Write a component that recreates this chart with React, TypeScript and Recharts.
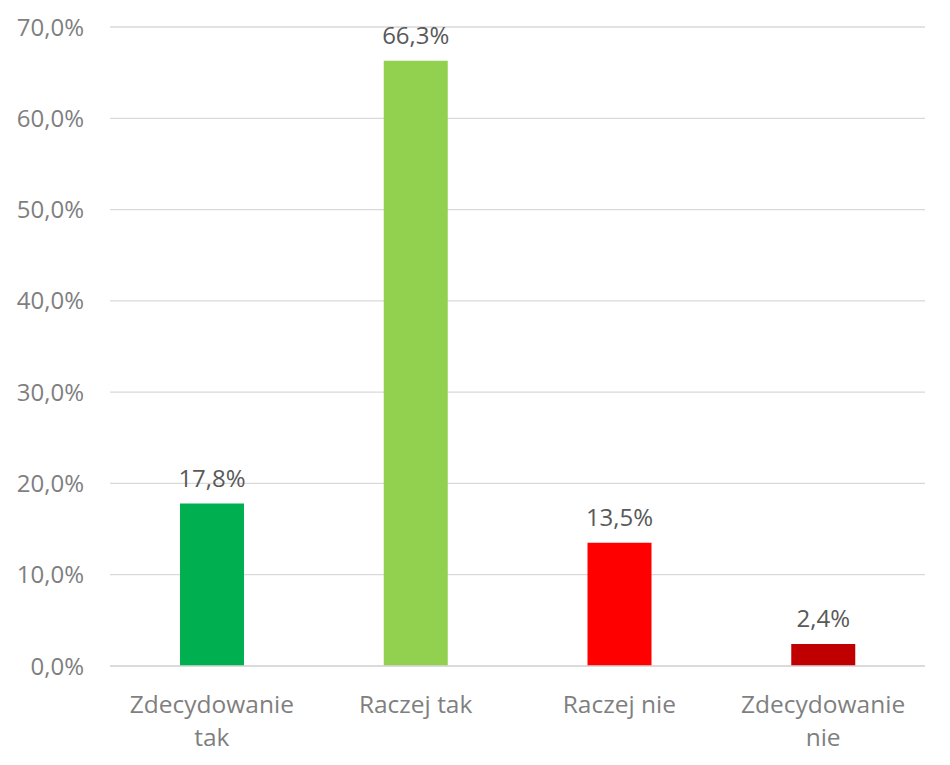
import { BarChart, Bar, XAxis, YAxis, CartesianGrid, LabelList, Cell } from 'recharts'

const categories = ['Zdecydowanie tak', 'Raczej tak', 'Raczej nie', 'Zdecydowanie nie']
const values = [17.8, 66.3, 13.5, 2.4]
const barColors = ['#00B050', '#92D050', '#FF0000', '#C00000']
const yTicks = [0, 10, 20, 30, 40, 50, 60, 70]

const data = categories.map((name, i) => ({ name, value: values[i] }))

const FONT = '"Open Sans", sans-serif'
const fmt = (n: number, digits: number) => n.toFixed(digits).replace('.', ',') + '%'

function CategoryTick({ x, y, payload }: { x?: number; y?: number; payload?: { value: string } }) {
  const text = payload?.value ?? ''
  // Excel-style wrap: "Zdecydowanie tak" breaks into two lines
  const lines = text.startsWith('Zdecydowanie') ? ['Zdecydowanie', text.slice(13)] : [text]
  return (
    <text x={x} y={y} textAnchor="middle" fill="#7f7f7f" fontSize={24.5} fontFamily={FONT}>
      {lines.map((l, i) => (
        <tspan key={i} x={x} dy={i === 0 ? 39 : 33}>
          {l}
        </tspan>
      ))}
    </text>
  )
}

export default function App() {
  return (
    <div style={{ position: 'absolute', left: 0, top: 0, background: '#fff' }}>
      <BarChart
        width={950}
        height={765}
        data={data}
        margin={{ top: 27, right: 25, bottom: 0, left: 0 }}
        barCategoryGap="0%"
      >
        <CartesianGrid stroke="#d9d9d9" strokeWidth={1.3} vertical={false} />
        <XAxis
          dataKey="name"
          axisLine={{ stroke: '#d9d9d9', strokeWidth: 1.5 }}
          tickLine={false}
          interval={0}
          tick={<CategoryTick />}
          height={99}
        />
        <YAxis
          width={110}
          domain={[0, 70]}
          ticks={yTicks}
          axisLine={false}
          tickLine={false}
          tickSize={0}
          tickMargin={26}
          tickFormatter={(v: number) => fmt(v, 1)}
          tick={{ fontSize: 24, fill: '#7f7f7f', fontFamily: FONT }}
        />
        <Bar dataKey="value" barSize={64} isAnimationActive={false}>
          {data.map((d, i) => (
            <Cell key={d.name} fill={barColors[i]} />
          ))}
          <LabelList
            dataKey="value"
            position="top"
            offset={17}
            formatter={(v: number) => fmt(v, 1)}
            style={{ fontSize: 24, fill: '#595959', fontFamily: FONT }}
          />
        </Bar>
      </BarChart>
    </div>
  )
}
